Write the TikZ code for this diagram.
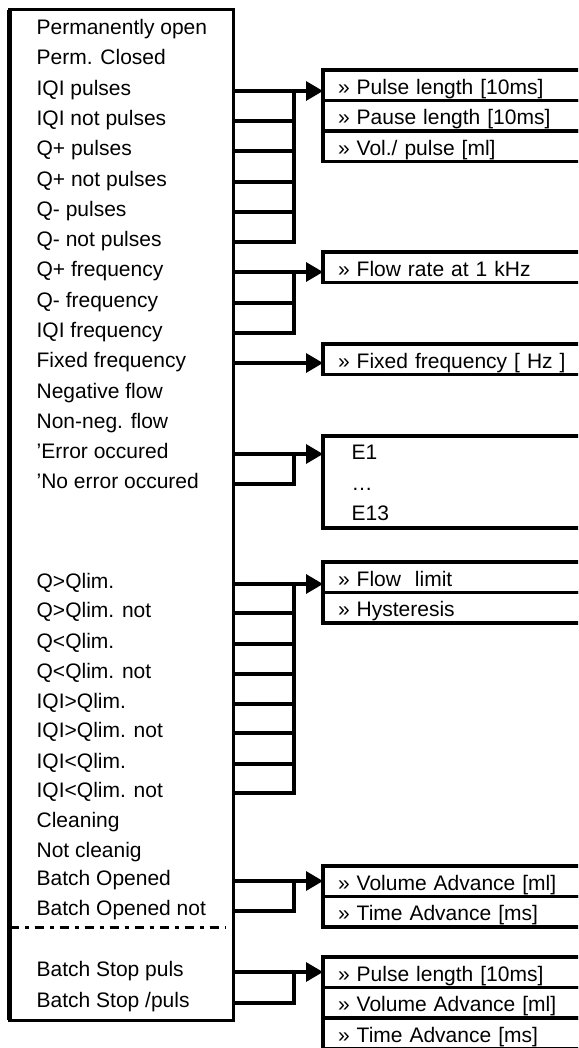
\documentclass[tikz,border=0pt]{standalone}
\usepackage{fontspec}
\setmainfont{Liberation Sans}
\usetikzlibrary{arrows.meta, positioning, calc}
\tikzset{
  every picture/.style={font=\fontsize{21pt}{25pt}\selectfont, line width=3.3pt},
  item/.style={anchor=west, inner sep=0pt, text height=15pt, text depth=6pt},
  field/.style={draw, line width=3.3pt, anchor=north west, outer sep=0pt, inner xsep=15pt, inner ysep=0pt,
    text width=300pt, align=left, minimum height=30.5pt, text height=18pt, text depth=0pt},
  link/.style={line width=3.3pt},
  arrow/.style={-{Triangle[length=17pt, width=19pt]}, line width=3.3pt},
}
\begin{document}
\begin{tikzpicture}[x=1pt, y=-1pt,
  panelbox/.style={draw, line width=3pt, anchor=north west, outer sep=0pt},
  cutline/.style={line width=3pt, dash pattern=on 9pt off 6pt on 4pt off 6pt}]
  \useasboundingbox (0,0) rectangle (578,1048);
  \clip (0,0) rectangle (578,1048);
  \node[panelbox, minimum width=223.5pt, minimum height=1010pt] (panel) at (9.5,10) {};
  \draw[line width=5pt] (panel.north west) -- (panel.south west);
  \foreach \y/\txt [count=\i] in {30/Permanently open, 60/Perm. Closed, 91/IQI pulses, 121/IQI not pulses,
    151/Q+ pulses, 182/Q+ not pulses, 212/Q- pulses, 242/Q- not pulses, 272/Q+ frequency, 303/Q- frequency,
    333/IQI frequency, 363/Fixed frequency, 394/Negative flow, 424/Non-neg. flow, 454/’Error occured,
    484/’No error occured, 584/Q>Qlim., 613/Q>Qlim. not, 644/Q<Qlim., 674/Q<Qlim. not, 704/IQI>Qlim.,
    733/IQI>Qlim. not, 764/IQI<Qlim., 793/IQI<Qlim. not, 823/Cleaning, 853/Not cleanig, 881/Batch Opened,
    911/Batch Opened not, 972/Batch Stop puls, 1003/{Batch Stop /puls}}
    \node[item] (r\i) at (35,\y) {\txt};
  \coordinate (cut) at (225,927);
  \draw[cutline] (cut -| panel.west) -- (cut);
  \node[field] (pl1) at (323,70) {» Pulse length [10ms]};
  \node[field] (pl2) at (pl1.south west) {» Pause length [10ms]};
  \node[field] (pl3) at (pl2.south west) {» Vol./ pulse [ml]};
  \node[field] (fr) at (323,252) {» Flow rate at 1 kHz};
  \node[field] (ff) at (323,344) {» Fixed frequency [ Hz ]};
  \node[panelbox, line width=4.5pt, minimum width=330pt, minimum height=92pt] (err) at (323,436) {};
  \node[item, anchor=base west] (e1) at (350,459.5) {E1};
  \node[item, anchor=base west] (e2) at (350,490) {…};
  \node[item, anchor=base west] (e3) at (350,520.5) {E13};
  \node[field] (fl1) at (323,562) {» Flow\ \ limit};
  \node[field] (fl2) at (fl1.south west) {» Hysteresis};
  \node[field] (va1) at (323,866) {» Volume Advance [ml]};
  \node[field] (va2) at (va1.south west) {» Time Advance [ms]};
  \node[field] (bs1) at (323,957) {» Pulse length [10ms]};
  \node[field] (bs2) at (bs1.south west) {» Volume Advance [ml]};
  \node[field] (bs3) at (bs2.south west) {» Time Advance [ms]};
  \coordinate (bus) at (294,0);
  \foreach \a/\b/\t in {3/8/pl1, 9/11/fr, 15/16/err, 17/24/fl1, 27/28/va1, 29/30/bs1} {
    \draw[arrow] (r\a -| panel.east) -- (\t.west |- r\a);
    \draw[link] (r\b -| panel.east) -| (bus |- r\a);
    \foreach \k in {\a,...,\b} \draw[link] (r\k -| panel.east) -- (bus |- r\k);
  }
  \draw[arrow] (r12 -| panel.east) -- (ff.west |- r12);
\end{tikzpicture}
\end{document}
